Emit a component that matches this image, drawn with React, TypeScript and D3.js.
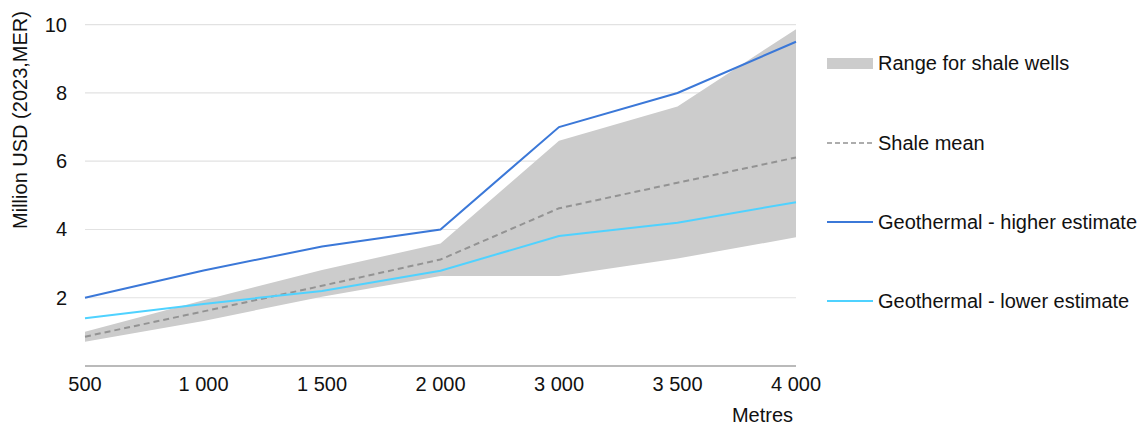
import React from "react";
import * as d3 from "d3";

const categories = ["500", "1 000", "1 500", "2 000", "3 000", "3 500", "4 000"];
const rangeLow = [0.71, 1.32, 2.03, 2.64, 2.64, 3.15, 3.77];
const rangeHigh = [1.0, 1.93, 2.81, 3.59, 6.6, 7.6, 9.87];
const shaleMean = [0.86, 1.6, 2.35, 3.12, 4.62, 5.37, 6.11];
const geoHigh = [2.0, 2.8, 3.5, 4.0, 7.0, 8.0, 9.5];
const geoLow = [1.4, 1.82, 2.2, 2.79, 3.81, 4.2, 4.8];
const yTicks = [2, 4, 6, 8, 10];

const W = 1142, H = 425;
const FONT = "'Liberation Sans', Arial, sans-serif";
const FS = 20;
const C_HIGH = "#3b78d8";
const C_LOW = "#4fd2ff";
const C_FILL = "#cccccc";
const C_MEAN = "#939393";

export default function App() {
  const x = d3.scalePoint<string>().domain(categories).range([85, 796]).padding(0);
  const y = d3.scaleLinear().domain([0, 10]).range([366, 24.7]);
  const idx = categories.map((_, i) => i);
  const area = d3.area<number>().x(i => x(categories[i])!).y0(i => y(rangeLow[i])).y1(i => y(rangeHigh[i]));
  const line = (vals: number[]) => d3.line<number>().x(i => x(categories[i])!).y(i => y(vals[i]))(idx)!;

  const legend = [
    { label: "Range for shale wells", y: 63, type: "rect" },
    { label: "Shale mean", y: 143, type: "dash" },
    { label: "Geothermal - higher estimate", y: 222, type: "high" },
    { label: "Geothermal - lower estimate", y: 301, type: "low" },
  ];

  return (
    <svg width={W} height={H} style={{ position: "absolute", left: 0, top: 0, fontFamily: FONT }}>
      <rect width={W} height={H} fill="#fff" />
      {yTicks.map(t => (
        <g key={t}>
          <line x1={85} x2={796} y1={y(t)} y2={y(t)} stroke="#e2e2e2" strokeWidth={1.2} />
          <text x={67} y={y(t)} dy="0.35em" textAnchor="end" fontSize={FS} fill="#111">{t}</text>
        </g>
      ))}
      <path d={area(idx)!} fill={C_FILL} />
      <path d={line(shaleMean)} fill="none" stroke={C_MEAN} strokeWidth={2} strokeDasharray="6,4" />
      <path d={line(geoLow)} fill="none" stroke={C_LOW} strokeWidth={2} />
      <path d={line(geoHigh)} fill="none" stroke={C_HIGH} strokeWidth={2} />
      <line x1={85} x2={796} y1={366} y2={366} stroke="#777" strokeWidth={1.2} />
      {categories.map(c => (
        <text key={c} x={x(c)} y={391} textAnchor="middle" fontSize={FS} fill="#111">{c}</text>
      ))}
      <text x={793} y={422} textAnchor="end" fontSize={FS} fill="#111">Metres</text>
      <text transform="translate(27,120) rotate(-90)" textAnchor="middle" fontSize={FS} fill="#111">Million USD (2023,MER)</text>
      {legend.map(l => (
        <g key={l.label}>
          {l.type === "rect" && <rect x={827} y={l.y - 5} width={46} height={11} fill={C_FILL} />}
          {l.type === "dash" && <line x1={827} x2={873} y1={l.y} y2={l.y} stroke={C_MEAN} strokeWidth={1.5} strokeDasharray="5,3" />}
          {l.type === "high" && <line x1={827} x2={873} y1={l.y} y2={l.y} stroke={C_HIGH} strokeWidth={2} />}
          {l.type === "low" && <line x1={827} x2={873} y1={l.y} y2={l.y} stroke={C_LOW} strokeWidth={2} />}
          <text x={878} y={l.y} dy="0.35em" fontSize={FS} fill="#111">{l.label}</text>
        </g>
      ))}
    </svg>
  );
}
